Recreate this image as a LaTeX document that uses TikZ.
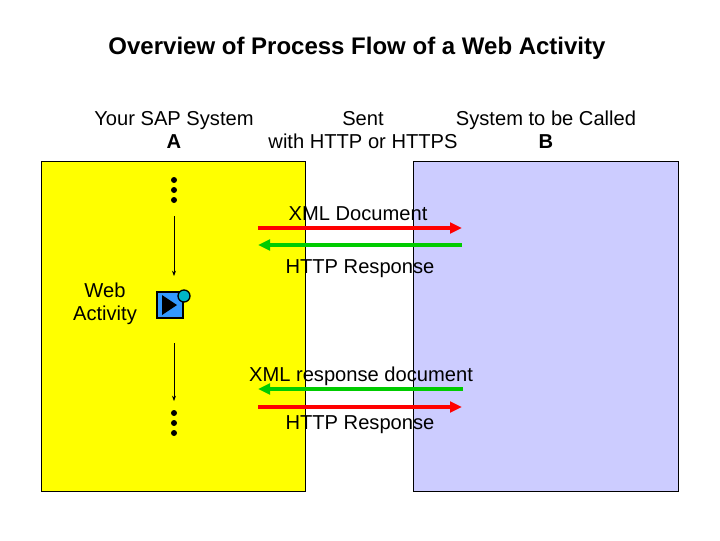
\documentclass[tikz,border=0pt]{standalone}
\usepackage{fontspec}
\setmainfont{Liberation Sans}
\usetikzlibrary{arrows.meta}
\definecolor{yel}{RGB}{255,255,0}
\definecolor{lav}{RGB}{204,204,255}
\definecolor{red1}{RGB}{255,0,0}
\definecolor{grn1}{RGB}{0,204,0}
\begin{document}
\begin{tikzpicture}[x=0.75pt,y=-0.75pt,
  lbl/.style={font=\fontsize{15.1}{17.5}\selectfont,inner sep=0pt,align=center},
  big/.style={line width=2.6pt,-{Triangle[length=9pt,width=8pt]}},
  flow/.style={line width=0.5pt,-{Stealth[length=4pt,width=3pt]}},
  dot/.style={circle,fill=black,inner sep=0pt,minimum size=4.5pt}]
\useasboundingbox (0,0) rectangle (720,540);
\fill[white] (0,0) rectangle (720,540);
\node[font=\bfseries\fontsize{18}{21}\selectfont] (title) at (357,48) {Overview of Process Flow of a Web Activity};
\node[draw=black,fill=yel,minimum width=264*0.75pt,minimum height=330*0.75pt,anchor=north west,inner sep=0pt] (A) at (41,161) {};
\node[draw=black,fill=lav,minimum width=265*0.75pt,minimum height=330*0.75pt,anchor=north west,inner sep=0pt] (B) at (413,161) {};
\node[lbl] (la) at (174,130) {Your SAP System\\\textbf{A}};
\node[lbl] (ls) at (363,130) {Sent\\with HTTP or HTTPS};
\node[lbl] (lb) at (546,130) {System to be Called\\\textbf{B}};
\node[lbl] (wa) at (105,304) {Web\\Activity};
% dots
\foreach \i/\y in {1/180,2/190,3/200,4/413,5/423,6/433} \node[dot] (d\i) at (174,\y) {};
\coordinate (t1) at (174,216); \coordinate (t2) at (174,276);
\coordinate (t3) at (174,343); \coordinate (t4) at (174,401);
\draw[flow] (t1) -- (t2);
\draw[flow] (t3) -- (t4);
% icon
\node[draw=black,line width=1.5pt,fill={rgb,255:red,51;green,153;blue,255},minimum size=26*0.75pt,inner sep=0pt] (icon) at (170,305) {};
\fill[black] (162,295) -- (177,305) -- (162,315) -- cycle;
\node[circle,draw=black,line width=1pt,fill={rgb,255:red,0;green,180;blue,200},minimum size=12*0.75pt,inner sep=0pt] (globe) at (184,296) {};
% arrows
\coordinate (l1) at (258,228); \coordinate (r1) at (462,228);
\coordinate (l2) at (258,245); \coordinate (r2) at (462,245);
\coordinate (l3) at (258,389); \coordinate (r3) at (463,389);
\coordinate (l4) at (258,407); \coordinate (r4) at (462,407);
\draw[big,red1] (l1) -- (r1);
\draw[big,grn1] (r2) -- (l2);
\draw[big,grn1] (r3) -- (l3);
\draw[big,red1] (l4) -- (r4);
\node[lbl] (m1) at (358,214) {XML Document};
\node[lbl] (m2) at (360,269) {HTTP Response};
\node[lbl] (m3) at (361,376) {XML response document};
\node[lbl] (m4) at (360,425) {HTTP Response};
\end{tikzpicture}
\end{document}
